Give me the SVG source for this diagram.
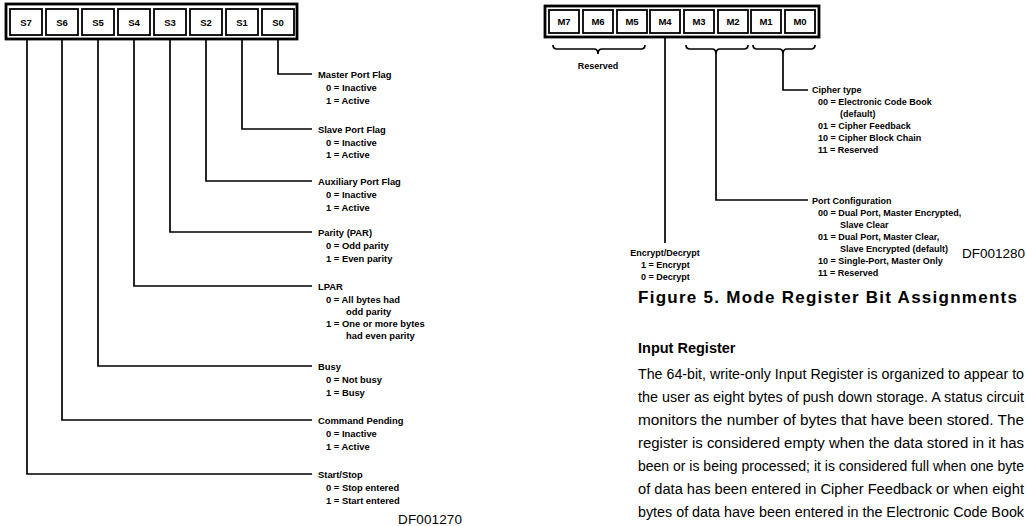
<svg xmlns="http://www.w3.org/2000/svg" width="1026" height="526" viewBox="0 0 1026 526">
<style>
.frame{fill:none;stroke:#000;stroke-width:2.8}
.cell{fill:#fff;stroke:#000;stroke-width:1.8}
.reg{font-family:"Liberation Sans",Arial,sans-serif;font-weight:bold;font-size:9.5px;fill:#000;text-anchor:middle}
.lbl{font-family:"Liberation Sans",Arial,sans-serif;font-weight:bold;font-size:9px;fill:#000}
.lbl2{font-family:"Liberation Sans",Arial,sans-serif;font-weight:bold;font-size:9.4px;fill:#000}
.con{fill:none;stroke:#000;stroke-width:1.7}
.df{font-family:"Liberation Sans",Arial,sans-serif;font-size:13.5px;fill:#000}
.cap{font-family:"Liberation Sans",Arial,sans-serif;font-weight:bold;font-size:17px;fill:#000}
.head{font-family:"Liberation Sans",Arial,sans-serif;font-weight:bold;font-size:14.5px;fill:#000}
.body{font-family:"Liberation Sans",Arial,sans-serif;font-size:13.8px;fill:#000}
</style>
<rect width="1026" height="526" fill="#fff"/>

<g id="status-register">
<rect class="frame" x="6" y="4" width="291" height="35"/>
<rect class="cell" x="10" y="9" width="32" height="26"/><text class="reg" x="26" y="25.5">S7</text>
<rect class="cell" x="46" y="9" width="32" height="26"/><text class="reg" x="62" y="25.5">S6</text>
<rect class="cell" x="82" y="9" width="32" height="26"/><text class="reg" x="98" y="25.5">S5</text>
<rect class="cell" x="118" y="9" width="32" height="26"/><text class="reg" x="134" y="25.5">S4</text>
<rect class="cell" x="154" y="9" width="32" height="26"/><text class="reg" x="170" y="25.5">S3</text>
<rect class="cell" x="190" y="9" width="32" height="26"/><text class="reg" x="206" y="25.5">S2</text>
<rect class="cell" x="226" y="9" width="32" height="26"/><text class="reg" x="242" y="25.5">S1</text>
<rect class="cell" x="262" y="9" width="32" height="26"/><text class="reg" x="278" y="25.5">S0</text>
</g>

<g id="connectors">
<path class="con" d="M278 39 V74 H312"/>
<path class="con" d="M242 39 V129 H312"/>
<path class="con" d="M206 39 V181 H312"/>
<path class="con" d="M170 39 V232 H312"/>
<path class="con" d="M134 39 V286 H312"/>
<path class="con" d="M98 39 V366 H312"/>
<path class="con" d="M62 39 V420 H312"/>
<path class="con" d="M27 39 V474 H312"/>
<path class="con" d="M553 45 q0 4 4 4 H594 q4 0 4 5 q0 -5 4 -5 H641 q4 0 4 -4"/>
<path class="con" d="M686 45 q0 4 4 4 H712 q4 0 4 5 q0 -5 4 -5 H744 q4 0 4 -4"/>
<path class="con" d="M753 45 q0 4 4 4 H779 q4 0 4 5 q0 -5 4 -5 H811 q4 0 4 -4"/>
<path class="con" d="M665 37 V243"/>
<path class="con" d="M716 54 V200 H808"/>
<path class="con" d="M783 54 V90 H808"/>
</g>

<g id="master-port-flag"><text class="lbl2" x="318" y="77.5">Master Port Flag</text><text class="lbl2" x="326" y="90.5">0 = Inactive</text><text class="lbl2" x="326" y="103.5">1 = Active</text></g>
<g id="slave-port-flag"><text class="lbl2" x="318" y="132.5">Slave Port Flag</text><text class="lbl2" x="326" y="145.5">0 = Inactive</text><text class="lbl2" x="326" y="158">1 = Active</text></g>
<g id="auxiliary-port-flag"><text class="lbl2" x="318" y="184.5">Auxiliary Port Flag</text><text class="lbl2" x="326" y="197.5">0 = Inactive</text><text class="lbl2" x="326" y="210.5">1 = Active</text></g>
<g id="parity"><text class="lbl2" x="318" y="235.5">Parity (PAR)</text><text class="lbl2" x="326" y="248.5">0 = Odd parity</text><text class="lbl2" x="326" y="261.5">1 = Even parity</text></g>
<g id="lpar"><text class="lbl2" x="318" y="289.5">LPAR</text><text class="lbl2" x="326" y="302.5">0 = All bytes had</text><text class="lbl2" x="346" y="314.5">odd parity</text><text class="lbl2" x="326" y="326.5">1 = One or more bytes</text><text class="lbl2" x="346" y="338.5">had even parity</text></g>
<g id="busy"><text class="lbl2" x="318" y="369.5">Busy</text><text class="lbl2" x="326" y="382.5">0 = Not busy</text><text class="lbl2" x="326" y="395.5">1 = Busy</text></g>
<g id="command-pending"><text class="lbl2" x="318" y="423.5">Command Pending</text><text class="lbl2" x="326" y="436.5">0 = Inactive</text><text class="lbl2" x="326" y="449.5">1 = Active</text></g>
<g id="start-stop"><text class="lbl2" x="318" y="477.5">Start/Stop</text><text class="lbl2" x="326" y="490.5">0 = Stop entered</text><text class="lbl2" x="326" y="503.5">1 = Start entered</text></g>
<text class="df" x="398" y="524" textLength="64">DF001270</text>

<g id="mode-register">
<rect class="frame" x="545" y="6" width="274" height="31"/>
<rect class="cell" x="549" y="10" width="30" height="23"/><text class="reg" x="564" y="25">M7</text>
<rect class="cell" x="583" y="10" width="30" height="23"/><text class="reg" x="598" y="25">M6</text>
<rect class="cell" x="617" y="10" width="30" height="23"/><text class="reg" x="632" y="25">M5</text>
<rect class="cell" x="650" y="10" width="30" height="23"/><text class="reg" x="665" y="25">M4</text>
<rect class="cell" x="684" y="10" width="30" height="23"/><text class="reg" x="699" y="25">M3</text>
<rect class="cell" x="718" y="10" width="30" height="23"/><text class="reg" x="733" y="25">M2</text>
<rect class="cell" x="751" y="10" width="30" height="23"/><text class="reg" x="766" y="25">M1</text>
<rect class="cell" x="785" y="10" width="30" height="23"/><text class="reg" x="800" y="25">M0</text>
</g>

<g id="reserved"><text class="lbl" x="598" y="69" text-anchor="middle">Reserved</text></g>
<g id="cipher-type">
<text class="lbl" x="812" y="93">Cipher type</text>
<text class="lbl" x="818" y="105">00 = Electronic Code Book</text>
<text class="lbl" x="840" y="116.5">(default)</text>
<text class="lbl" x="818" y="128.5">01 = Cipher Feedback</text>
<text class="lbl" x="818" y="140.5">10 = Cipher Block Chain</text>
<text class="lbl" x="818" y="152.5">11 = Reserved</text>
</g>
<g id="port-configuration">
<text class="lbl" x="812" y="204">Port Configuration</text>
<text class="lbl" x="818" y="216">00 = Dual Port, Master Encrypted,</text>
<text class="lbl" x="840" y="228">Slave Clear</text>
<text class="lbl" x="818" y="240">01 = Dual Port, Master Clear,</text>
<text class="lbl" x="840" y="252">Slave Encrypted (default)</text>
<text class="lbl" x="818" y="264">10 = Single-Port, Master Only</text>
<text class="lbl" x="818" y="276">11 = Reserved</text>
</g>
<g id="encrypt-decrypt">
<text class="lbl" x="665" y="256" text-anchor="middle">Encrypt/Decrypt</text>
<text class="lbl" x="641" y="267.5">1 = Encrypt</text>
<text class="lbl" x="641" y="279.5">0 = Decrypt</text>
</g>
<text class="df" x="1025" y="258" text-anchor="end">DF001280</text>

<text class="cap" x="638" y="303" textLength="379" lengthAdjust="spacing">Figure 5. Mode Register Bit Assignments</text>
<text class="head" x="638" y="353">Input Register</text>
<g id="paragraph">
<text class="body" x="638" y="379" textLength="386" lengthAdjust="spacingAndGlyphs">The 64-bit, write-only Input Register is organized to appear to</text>
<text class="body" x="638" y="402" textLength="386" lengthAdjust="spacingAndGlyphs">the user as eight bytes of push down storage. A status circuit</text>
<text class="body" x="638" y="425" textLength="386" lengthAdjust="spacingAndGlyphs">monitors the number of bytes that have been stored. The</text>
<text class="body" x="638" y="448" textLength="386" lengthAdjust="spacingAndGlyphs">register is considered empty when the data stored in it has</text>
<text class="body" x="638" y="471" textLength="386" lengthAdjust="spacingAndGlyphs">been or is being processed; it is considered full when one byte</text>
<text class="body" x="638" y="494" textLength="386" lengthAdjust="spacingAndGlyphs">of data has been entered in Cipher Feedback or when eight</text>
<text class="body" x="638" y="517" textLength="386" lengthAdjust="spacingAndGlyphs">bytes of data have been entered in the Electronic Code Book</text>
</g>
</svg>
